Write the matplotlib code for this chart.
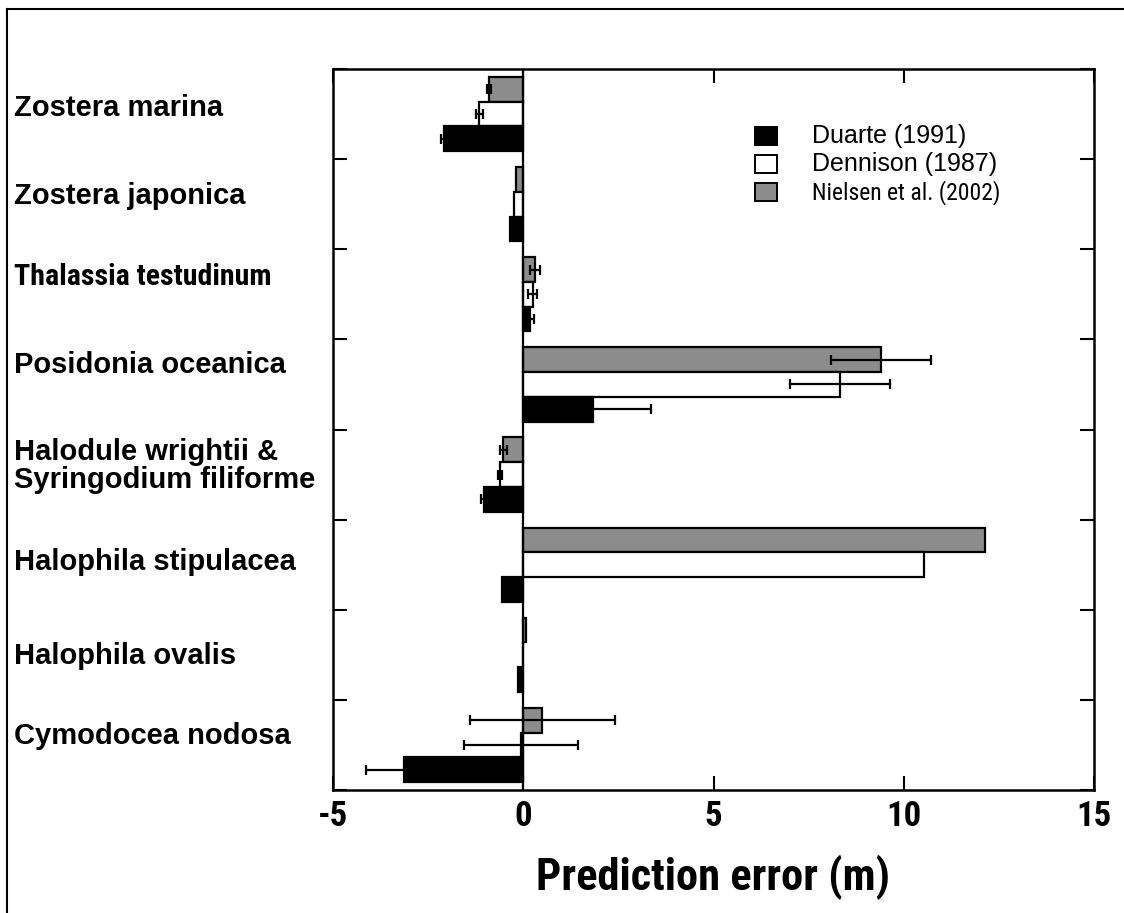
import matplotlib
matplotlib.use("Agg")
import matplotlib.pyplot as plt
import matplotlib.font_manager as fm
from matplotlib.lines import Line2D
from matplotlib.patches import Rectangle
import numpy as np

species = ["Zostera marina", "Zostera japonica", "Thalassia testudinum",
           "Posidonia oceanica", "Halodule wrightii &\nSyringodium filiforme",
           "Halophila stipulacea", "Halophila ovalis", "Cymodocea nodosa"]

duarte = [-2.09, -0.36, 0.17, 1.82, -1.04, -0.55, -0.13, -3.13]
duarte_err = [0.08, 0.0, 0.10, 1.55, 0.06, 0.0, 0.0, 1.0]
dennison = [-1.15, -0.25, 0.25, 8.32, -0.62, 10.53, 0.0, -0.05]
dennison_err = [0.10, 0.0, 0.12, 1.31, 0.05, 0.0, 0.0, 1.5]
nielsen = [-0.91, -0.18, 0.32, 9.40, -0.52, 12.13, 0.07, 0.50]
nielsen_err = [0.05, 0.0, 0.13, 1.31, 0.10, 0.0, 0.0, 1.9]

xticks = [-5, 0, 5, 10, 15]
xlabel = "Prediction error (m)"
legend_labels = ["Duarte (1991)", "Dennison (1987)", "Nielsen et al. (2002)"]
colors = ["black", "white", "#8c8c8c"]

# ---- fonts ----
weights = {}
for f in fm.fontManager.ttflist:
    try:
        w = int(f.weight)
    except Exception:
        w = 700 if "bold" in str(f.weight).lower() else 400
    weights.setdefault(f.name, set()).add(w)


def pick(prefs, need_bold=False):
    for p in prefs:
        if p in weights and (not need_bold or max(weights[p]) >= 700):
            return p
    return "Liberation Sans"


narrow_prefs = ["Liberation Sans Narrow", "Arial Narrow", "Roboto Condensed",
                "Archivo Narrow", "PT Sans Narrow", "Pragati Narrow",
                "Fira Sans Condensed", "IBM Plex Sans Condensed",
                "Encode Sans Condensed", "Open Sans Condensed",
                "Sofia Sans Condensed", "Barlow Semi Condensed"]
NARROW_B = [pick(narrow_prefs, True), "DejaVu Sans"]
NARROW_R = [pick(narrow_prefs, False), "DejaVu Sans"]
SANS = ["Liberation Sans", "DejaVu Sans"]

fig = plt.figure(figsize=(11.24, 9.13), dpi=100)
ax = fig.add_axes([333/1124, 1-790/913, (1094-333)/1124, (790-69)/913])

y = np.arange(len(species))
h = 0.275
series = [(nielsen, nielsen_err, colors[2], -h),
          (dennison, dennison_err, colors[1], 0.0),
          (duarte, duarte_err, colors[0], h)]
for vals, errs, col, off in series:
    ax.barh(y + off, vals, height=h, color=col, edgecolor="black",
            linewidth=1.6, zorder=2)
    e = np.array(errs)
    m = e > 0
    ax.errorbar(np.array(vals)[m], (y + off)[m], xerr=e[m], fmt="none",
                ecolor="black", elinewidth=1.6, capsize=3.5, capthick=1.6,
                zorder=3)

ax.axvline(0, color="black", lw=1.6, zorder=4)
ax.set_xlim(-5, 15)
ax.set_ylim(len(species) - 0.5, -0.5)
ax.set_xticks(xticks)
ax.set_xticklabels([str(t) for t in xticks], fontfamily=NARROW_B,
                   fontweight="bold", fontsize=25)
ax.set_yticks(np.arange(len(species) + 1) - 0.5)
ax.set_yticklabels([])
ax.tick_params(axis="both", which="both", direction="in", length=10,
               width=1.5, top=True, right=True)
ax.tick_params(axis="x", pad=7)
for s in ax.spines.values():
    s.set_linewidth(1.8)

ax.set_xlabel(xlabel, fontfamily=NARROW_B, fontweight="bold", fontsize=32,
              labelpad=16)

# species labels (vertical offsets in px from group centre)
label_dy = [-6, -8, -17, -19, -9, -3, 1, -9]
for i, name in enumerate(species):
    narrow = name.startswith("Thalassia")
    fam = NARROW_B if narrow else SANS
    fs = 21.5 if narrow else 21
    ax.annotate(name, xy=(0, i), xycoords=("figure pixels", "data"),
                xytext=(14, -label_dy[i]), textcoords="offset pixels",
                ha="left", va="center", fontfamily=fam, fontweight="bold",
                fontsize=fs, linespacing=1.0)

# legend
lx, ly0, dy = 0.555, 0.093, 0.039
for k, (lab, col) in enumerate(zip(legend_labels, colors)):
    yy = 1 - (ly0 + k * dy)
    ax.add_patch(Rectangle((lx, yy - 0.012), 0.028, 0.025, transform=ax.transAxes,
                           facecolor=col, edgecolor="black", lw=1.4,
                           clip_on=False, zorder=5))
    fam = NARROW_R if k == 2 else SANS
    fs = 17 if k == 2 else 18
    ax.text(lx + 0.074, yy, lab, transform=ax.transAxes, ha="left",
            va="center", fontsize=fs, fontfamily=fam)

# outer frame (partial)
fig.add_artist(Line2D([7/1124, 7/1124], [0, 1-9/913], transform=fig.transFigure,
                      color="black", lw=1.5))
fig.add_artist(Line2D([7/1124, 1], [1-9/913, 1-9/913], transform=fig.transFigure,
                      color="black", lw=1.5))

fig.savefig("out.png", dpi=100)
